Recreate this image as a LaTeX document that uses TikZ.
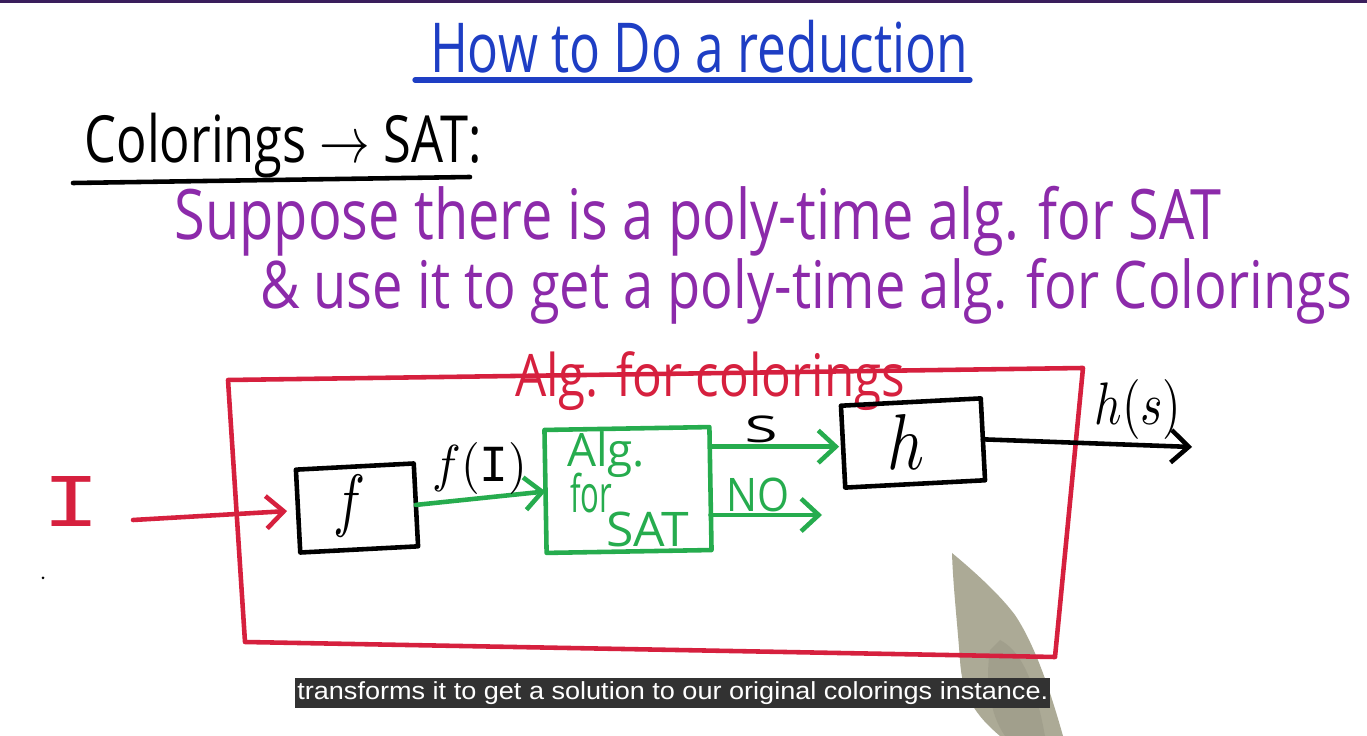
\documentclass[tikz,border=0pt]{standalone}
\usepackage{fontspec}
\setmainfont{Open Sans}
\newfontfamily\capfont{Liberation Sans}
\newfontfamily\monoI{Liberation Mono}
\usetikzlibrary{arrows.meta}
\definecolor{hblue}{RGB}{30,62,196}
\definecolor{hpurple}{RGB}{140,42,170}
\definecolor{hred}{RGB}{214,32,62}
\definecolor{hgreen}{RGB}{38,172,78}
\definecolor{strip}{RGB}{58,30,92}
\definecolor{capbg}{RGB}{50,50,50}
\definecolor{pencil}{RGB}{172,170,150}
\newcommand{\fitto}[3]{\resizebox*{#1}{#2}{#3}}
\begin{document}
\begin{tikzpicture}[x=0.02cm,y=-0.02cm,
  txt/.style={inner sep=0pt, outer sep=0pt, anchor=center},
  pen/.style={line width=2.6pt, line cap=round, line join=round},
  box/.style={pen, draw, rectangle, inner sep=0pt, outer sep=0pt},
  arr/.style={pen, -{Straight Barb[length=3.5mm,width=6.5mm]}}]
% canvas
\fill[white] (0,0) rectangle (1367,736);
\useasboundingbox (0,0) rectangle (1367,736);
\fill[strip] (0,0) rectangle (1367,3);
% title
\node[txt, text=hblue] (title) at (699,47) {\fitto{10.76cm}{1.06cm}{How to Do a reduction}};
\draw[pen, hblue, line width=3pt] (415,80) -- (970,80);
% colorings -> SAT
\node[txt] (head) at (283,146) {\fitto{7.94cm}{1.30cm}{Colorings $\rightarrow$ SAT:}};
\draw[pen] (73,183) -- (470,177);
% purple text
\node[txt, text=hpurple] (line1) at (698,221) {\fitto{20.94cm}{1.40cm}{Suppose there is a poly-time alg. for SAT}};
\node[txt, text=hpurple] (line2) at (806,291) {\fitto{21.84cm}{1.32cm}{\& use it to get a poly-time alg. for Colorings}};
% pencil (behind the drawing)
\fill[pencil] (952,553) .. controls (975,572) and (1000,595) .. (1015,615)
  .. controls (1035,645) and (1050,690) .. (1063,736)
  -- (1000,736) .. controls (975,715) and (962,695) .. (960,660)
  .. controls (957,620) and (953,585) .. cycle;
\fill[pencil!80!black, opacity=0.3] (1000,640) .. controls (1020,650) and (1035,680) .. (1045,736)
  -- (1005,736) .. controls (990,715) and (985,680) .. (990,650) -- cycle;
% red outer box
\coordinate (rTL) at (228,380);
\coordinate (rTR) at (1083,368);
\coordinate (rBR) at (1055,657);
\coordinate (rBL) at (245,642);
\draw[pen, hred] (rTL) -- (rTR) -- (rBR) -- (rBL) -- cycle;
\node[txt, text=hred] (algcol) at (710,381) {\fitto{7.8cm}{1.18cm}{Alg. for colorings}};
% input
\node[txt, text=hred] (I) at (71,502) {\fitto{1.16cm}{1.0cm}{\monoI I}};
\coordinate (Istart) at (133,520);
\fill (43,578) circle (1.5);
% f box
\node[box, minimum width=2.36cm, minimum height=1.66cm, rotate=3] (fbox) at (357,508) {};
\node[txt] (flab) at (349,506) {\fitto{0.64cm}{1.24cm}{$f$}};
\draw[arr, hred] (Istart) -- ([xshift=-0.22cm]fbox.west);
% SAT box
\node[box, draw=hgreen, minimum width=3.3cm, minimum height=2.46cm, rotate=1] (sat) at (628,490) {};
\node[txt, text=hgreen] (satA) at (606,455) {\fitto{1.56cm}{0.92cm}{Alg.}};
\node[txt, text=hgreen] (satB) at (591,493) {\fitto{0.84cm}{0.8cm}{for}};
\node[txt, text=hgreen] (satC) at (648,529) {\fitto{1.66cm}{0.7cm}{SAT}};
\draw[arr, hgreen] (fbox.east) -- (sat.west);
\node[txt] (fI) at (480,469) {\fitto{1.9cm}{1.04cm}{$f($\monoI I$)$}};
% h box
\node[box, minimum width=2.8cm, minimum height=1.64cm, rotate=3] (hbox) at (913,443) {};
\node[txt] (hlab) at (906,442) {\fitto{0.74cm}{1.1cm}{$h$}};
\draw[arr, hgreen] (sat.east |- hbox.west) -- ([xshift=-0.08cm]hbox.west);
\node[txt] (S) at (761,429) {\fitto{0.66cm}{0.54cm}{S}};
\coordinate (noEnd) at (822,515);
\draw[arr, hgreen] (sat.east |- noEnd) -- (noEnd);
\node[txt, text=hgreen] (NO) at (758,495) {\fitto{1.26cm}{0.68cm}{NO}};
% output
\coordinate (hsEnd) at (1192,447);
\draw[arr] (hbox.east) -- (hsEnd);
\node[txt] (hs) at (1138,410) {\fitto{1.74cm}{1.2cm}{$h(s)$}};
% caption
\node[fill=capbg, inner sep=0pt, minimum width=15.1cm, minimum height=0.6cm, anchor=north west] (capbox) at (295,678) {};
\node[txt, text=white] (cap) at (capbox.center) {\fitto{15.02cm}{0.46cm}{\capfont transforms it to get a solution to our original colorings instance.}};
\end{tikzpicture}
\end{document}
